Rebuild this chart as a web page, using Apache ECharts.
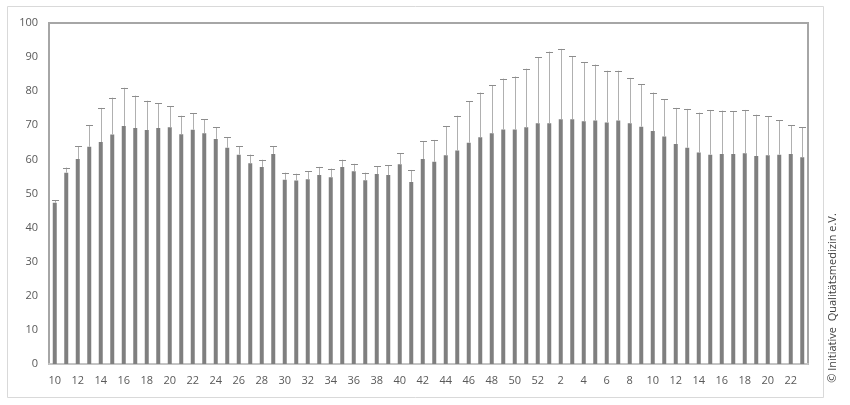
<!DOCTYPE html>
<html><head><meta charset="utf-8">
<script src="https://cdn.jsdelivr.net/npm/echarts@6/dist/echarts.min.js"></script>
<style>html,body{margin:0;padding:0;background:#fff}#c{width:850px;height:405px}</style>
</head><body><div id="c"></div>
<script>
var weeks = ['10','11','12','13','14','15','16','17','18','19','20','21','22','23','24','25','26','27','28','29','30','31','32','33','34','35','36','37','38','39','40','41','42','43','44','45','46','47','48','49','50','51','52','1','2','3','4','5','6','7','8','9','10','11','12','13','14','15','16','17','18','19','20','21','22','23'];
var meanValues = [47.3,56.1,60.1,63.7,65.1,67.3,69.8,69.2,68.6,69.2,69.4,67.4,68.7,67.7,66.0,63.4,61.4,58.9,57.8,61.6,54.0,53.8,54.2,55.4,54.8,57.8,56.5,53.9,55.7,55.4,58.6,53.4,60.1,59.3,61.2,62.6,64.9,66.5,67.7,68.8,68.8,69.4,70.6,70.6,71.8,71.8,71.2,71.4,70.8,71.4,70.6,69.6,68.3,66.7,64.5,63.4,62.0,61.4,61.6,61.6,61.8,61.0,61.2,61.4,61.6,60.6];
var upperValues = [48.0,57.6,63.9,70.1,75.1,78.1,81.0,78.7,77.2,76.5,75.6,72.8,73.6,71.8,69.4,66.5,63.9,61.4,59.9,63.9,56.1,55.8,56.5,57.8,57.3,59.9,58.7,56.1,58.0,58.3,61.8,56.9,65.3,65.7,69.8,72.8,77.0,79.6,81.8,83.7,84.3,86.6,90.0,91.6,92.4,90.2,88.5,87.8,86.0,86.0,83.9,82.0,79.6,77.6,75.1,74.8,73.7,74.5,74.3,74.1,74.5,73.1,72.7,71.5,70.0,69.5];
var yTicks = [0,10,20,30,40,50,60,70,80,90,100];

var chart = echarts.init(document.getElementById('c'), null, {renderer:'canvas'});
var errData = meanValues.map(function(v,i){return [i, v, upperValues[i]];});
chart.setOption({
  animation:false,
  backgroundColor:'#fff',
  grid:{left:49,right:42,top:23,bottom:41,show:true,borderColor:'#a6a6a6',borderWidth:2,backgroundColor:'transparent'},
  xAxis:{type:'category',data:weeks.map(function(w,i){return i+'';}),
    axisLine:{show:true,lineStyle:{color:'#c4c4c4',width:2}},
    axisTick:{show:false},
    axisLabel:{interval:1,color:'#595959',fontFamily:'Open Sans',fontSize:11,margin:11,
      formatter:function(v){return weeks[+v];}}
  },
  yAxis:{type:'value',min:0,max:100,interval:10,
    axisLine:{show:false},axisTick:{show:false},splitLine:{show:false},
    axisLabel:{color:'#595959',fontFamily:'Open Sans',fontSize:11,margin:11,
      formatter:function(v){return yTicks.indexOf(v)>=0?String(v):'';}}
  },
  series:[
    {type:'bar',data:meanValues,barWidth:4,itemStyle:{color:'#7f7f7f'},z:2},
    {type:'custom',data:errData,z:3,
      renderItem:function(params,api){
        var i=api.value(0);
        var p0=api.coord([i,api.value(1)]);
        var p1=api.coord([i,api.value(2)]);
        var x=Math.round(p0[0])+0.5;
        return {type:'group',children:[
          {type:'line',shape:{x1:x,y1:p0[1],x2:x,y2:p1[1]},style:{stroke:'#b0b0b0',lineWidth:1}},
          {type:'line',shape:{x1:x-3.5,y1:Math.round(p1[1])+0.5,x2:x+3.5,y2:Math.round(p1[1])+0.5},style:{stroke:'#8c8c8c',lineWidth:1}}
        ]};
      }
    }
  ],
  graphic:[
    {type:'rect',shape:{x:7.5,y:6.5,width:816,height:391},style:{fill:'none',stroke:'#d9d9d9',lineWidth:1},silent:true},
    {type:'text',x:833,y:298,rotation:Math.PI/2,
      style:{text:'© Initiative  Qualitätsmedizin e.V.',fill:'#404040',font:'11px "Open Sans"',align:'center',verticalAlign:'middle'}}
  ]
});
</script></body></html>
